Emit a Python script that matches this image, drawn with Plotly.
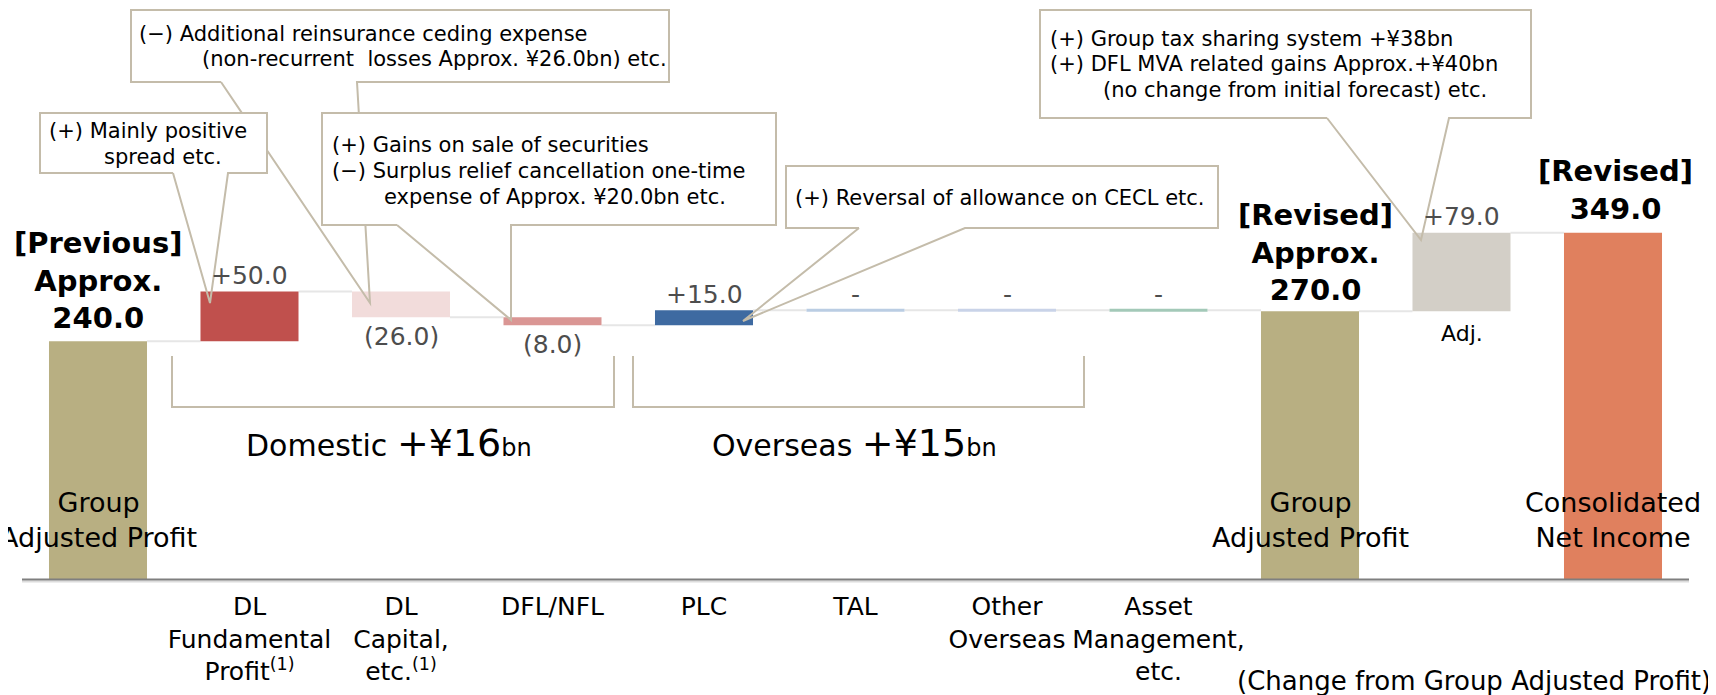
"""Group Adjusted Profit bridge: previous forecast -> revised forecast -> consolidated net income."""

import plotly.graph_objects as go

# ---- data ----
categories = ["Group Adjusted Profit [Previous]", "DL Fundamental Profit", "DL Capital, etc.",
              "DFL/NFL", "PLC", "TAL", "Other Overseas", "Asset Management, etc.",
              "Group Adjusted Profit [Revised]", "Adj.", "Consolidated Net Income"]
values = [240.0, 50.0, -26.0, -8.0, 15.0, 0.0, 0.0, 0.0, 270.0, 79.0, 349.0]
measures = ["absolute", "relative", "relative", "relative", "relative", "relative",
            "relative", "relative", "absolute", "relative", "total"]
tick_labels = ["", "DL<br>Fundamental<br>Profit<sup>(1)</sup>", "DL<br>Capital,<br>etc.<sup>(1)</sup>",
               "DFL/NFL", "PLC", "TAL", "Other<br>Overseas", "Asset<br>Management,<br>etc.",
               "", "", ""]
bar_colors = ["#B8AF82", "#C0504D", "#F2DCDB", "#DA9694", "#3E6AA1", "#BACDE3",
              "#C9D3E8", "#A3C9B8", "#B8AF82", "#D3CFC7", "#E0805E"]
domestic_idx = [1, 2, 3]
overseas_idx = [4, 5, 6, 7]

W, H = 1716, 695
OFF = 8                    # page body margin: the figure sits 8px right/down in the window
AXIS_Y = 580               # window pixel row of the axis line
PLOT_H = AXIS_Y - OFF
FONT = "DejaVu Sans"
LINE_COL = "#C4BCAA"
BAR_W = 0.647
X0_PX, STEP_PX = 98, 151.5   # window x of the first category centre, category pitch


def px(x):
    return (x - OFF) / W


def py(y):
    return (AXIS_Y - y) / PLOT_H


def fmt(v):
    if v > 0:
        return f"+{v:.1f}"
    if v < 0:
        return f"({-v:.1f})"
    return "-"


# -- waterfall geometry from the values --
level = 0.0
bases, heights, levels = [], [], []
for v, m in zip(values, measures):
    if m == "absolute":
        base, h, level = 0.0, v, v
    elif m == "total":
        base, h = 0.0, level
    else:
        base, h = level + min(v, 0.0), abs(v)
        level += v
    bases.append(base)
    heights.append(h)
    levels.append(level)

n = len(values)
xs = list(range(n))

fig = go.Figure()
fig.add_trace(go.Bar(
    x=xs, y=heights, base=bases, width=BAR_W,
    marker={"color": bar_colors, "line": {"width": 0}},
    hovertext=categories, hoverinfo="text",
))

shapes = []
annotations = []

# connectors
for i in range(n - 1):
    shapes.append(dict(type="line", xref="x", yref="y", layer="below",
                       x0=i + BAR_W / 2, x1=i + 1 - BAR_W / 2, y0=levels[i], y1=levels[i],
                       line={"color": "#E6E6E6", "width": 2}))

# zero-change items drawn as a thin stroke
for i in xs:
    if measures[i] == "relative" and values[i] == 0:
        shapes.append(dict(type="line", xref="x", yref="y",
                           x0=i - BAR_W / 2, x1=i + BAR_W / 2, y0=levels[i], y1=levels[i],
                           line={"color": bar_colors[i], "width": 3}))

# value labels on relative bars
for i in xs:
    if measures[i] != "relative":
        continue
    v = values[i]
    top = bases[i] + heights[i]
    if v < 0:
        y, shift = bases[i], -19
    else:
        y, shift = top, 16
    annotations.append(dict(x=i, y=y, xref="x", yref="y", text=fmt(v), showarrow=False,
                            yanchor="middle", yshift=shift,
                            font={"family": FONT, "size": 25, "color": "#4D4D4D"}))

# bold totals
bold_font = {"family": FONT, "size": 29, "color": "black"}
annotations.append(dict(x=0, y=values[0], xref="x", yref="y", showarrow=False,
                        text=f"<b>[Previous]<br>Approx.<br>{values[0]:.1f}</b>",
                        yanchor="bottom", yshift=4, font=bold_font))
annotations.append(dict(x=8, y=values[8], xref="x", yref="y", showarrow=False,
                        text=f"<b>[Revised]<br>Approx.<br>{values[8]:.1f}</b>",
                        yanchor="bottom", yshift=2, xshift=5, font=bold_font))
annotations.append(dict(x=10, y=levels[10], xref="x", yref="y", showarrow=False,
                        text=f"<b>[Revised]<br>{levels[10]:.1f}</b>",
                        yanchor="bottom", yshift=5, xshift=2, font=bold_font))

# labels inside the total bars
inside_font = {"family": FONT, "size": 27, "color": "black"}
for i, txt in [(0, "Group<br>Adjusted Profit"), (8, "Group<br>Adjusted Profit"),
               (10, "Consolidated<br>Net Income")]:
    annotations.append(dict(x=i, y=py(520), xref="x", yref="paper", text=txt, showarrow=False,
                            xanchor="center", yanchor="middle", font=inside_font))

annotations.append(dict(x=9, y=bases[9], xref="x", yref="y", text="Adj.", showarrow=False,
                        yanchor="middle", yshift=-22,
                        font={"family": FONT, "size": 22, "color": "black"}))

# brackets for the segments
for idx, (x0, x1), name in [(domestic_idx, (172, 614), "Domestic"),
                            (overseas_idx, (633, 1084), "Overseas")]:
    shapes.append(dict(type="path", xref="paper", yref="paper",
                       path=(f"M{px(x0)},{py(356)} L{px(x0)},{py(407)} "
                             f"L{px(x1)},{py(407)} L{px(x1)},{py(356)}"),
                       line={"color": LINE_COL, "width": 2}))
    total = sum(values[i] for i in idx)
    annotations.append(dict(
        x=px((x0 + x1) / 2 - 4), y=py(443), xref="paper", yref="paper", showarrow=False,
        xanchor="center", yanchor="middle",
        text=(f"{name} <span style='font-size:38px'>+¥{total:.0f}</span>"
              f"<span style='font-size:24px'>bn</span>"),
        font={"family": FONT, "size": 30, "color": "black"}))

# callouts: box (x0, y0, x1, y1), tail base (b1, b2), tip, text lines (x, y, text)
callouts = [
    ((131, 10, 669, 82), (221, 357), (370, 303),
     [(137, 34, "(−) Additional reinsurance ceding expense"),
      (200, 59, "(non-recurrent  losses Approx. ¥26.0bn) etc.")]),
    ((40, 113, 267, 173), (173, 228), (210, 303),
     [(47, 131, "(+) Mainly positive"),
      (102, 157, "spread etc.")]),
    ((322, 113, 776, 225), (397, 511), (511, 320),
     [(330, 145, "(+) Gains on sale of securities"),
      (330, 171, "(−) Surplus relief cancellation one-time"),
      (382, 197, "expense of Approx. ¥20.0bn etc.")]),
    ((786, 166, 1218, 228), (859, 965), (743, 321),
     [(793, 198, "(+) Reversal of allowance on CECL etc.")]),
    ((1040, 10, 1531, 118), (1327, 1449), (1421, 240),
     [(1048, 39, "(+) Group tax sharing system +¥38bn"),
      (1048, 64, "(+) DFL MVA related gains Approx.+¥40bn"),
      (1101, 90, "(no change from initial forecast) etc.")]),
]
for (x0, y0, x1, y1), (b1, b2), (tx, ty), lines in callouts:
    shapes.append(dict(type="rect", xref="paper", yref="paper",
                       x0=px(x0), x1=px(x1), y0=py(y0), y1=py(y1),
                       fillcolor="white", line={"width": 0}))
    path = (f"M{px(b1)},{py(y1)} L{px(x0)},{py(y1)} L{px(x0)},{py(y0)} "
            f"L{px(x1)},{py(y0)} L{px(x1)},{py(y1)} L{px(b2)},{py(y1)} "
            f"L{px(tx)},{py(ty)} L{px(b1)},{py(y1)}")
    shapes.append(dict(type="path", xref="paper", yref="paper", path=path,
                       line={"color": LINE_COL, "width": 2}))
    for lx, ly, txt in lines:
        annotations.append(dict(x=px(lx), y=py(ly), xref="paper", yref="paper", text=txt,
                                showarrow=False, xanchor="left", yanchor="middle",
                                font={"family": FONT, "size": 21, "color": "black"}))

# axis line
shapes.append(dict(type="line", xref="paper", yref="paper",
                   x0=px(22), x1=px(1689), y0=py(581.5), y1=py(581.5),
                   line={"color": "#DCDCDC", "width": 2}))
shapes.append(dict(type="line", xref="paper", yref="paper",
                   x0=px(22), x1=px(1689), y0=py(579.5), y1=py(579.5),
                   line={"color": "#7F7F7F", "width": 2}))

annotations.append(dict(x=px(1713), y=py(681), xref="paper", yref="paper",
                        text="(Change from Group Adjusted Profit)", showarrow=False,
                        xanchor="right", yanchor="middle",
                        font={"family": FONT, "size": 26, "color": "black"}))

tick_vals = [i for i in xs if tick_labels[i]]
fig.update_layout(
    width=W, height=H,
    margin={"l": 0, "r": 0, "t": 0, "b": H - PLOT_H},
    paper_bgcolor="white", plot_bgcolor="white",
    showlegend=False,
    xaxis={"range": [(OFF - X0_PX) / STEP_PX, (W + OFF - X0_PX) / STEP_PX],
           "tickvals": tick_vals, "ticktext": [tick_labels[i] for i in tick_vals],
           "showgrid": False, "zeroline": False, "showline": False, "ticks": "",
           "ticklabelstandoff": 9,
           "tickfont": {"family": FONT, "size": 25, "color": "black"}},
    yaxis={"range": [0, PLOT_H / 0.995], "visible": False},
    shapes=shapes,
    annotations=annotations,
)

fig.write_html("out.html")
